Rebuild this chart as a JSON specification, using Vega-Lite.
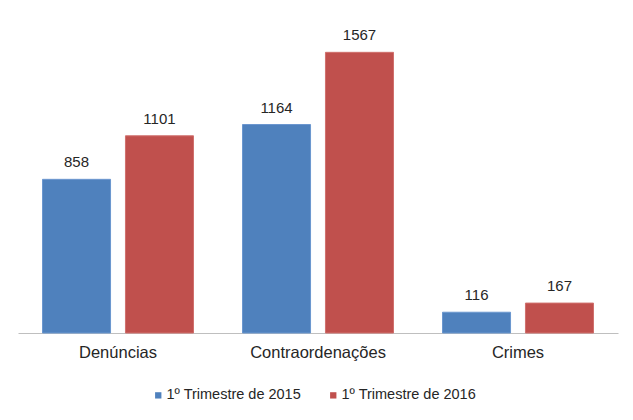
{
  "$schema": "https://vega.github.io/schema/vega-lite/v6.json",
  "autosize": "none",
  "width": 600,
  "height": 300,
  "padding": {"left": 18, "top": 33, "right": 15, "bottom": 87},
  "background": "white",
  "data": {
    "values": [
      {"categoria": "Denúncias", "periodo": "1º Trimestre de 2015", "valor": 858},
      {"categoria": "Denúncias", "periodo": "1º Trimestre de 2016", "valor": 1101},
      {"categoria": "Contraordenações", "periodo": "1º Trimestre de 2015", "valor": 1164},
      {"categoria": "Contraordenações", "periodo": "1º Trimestre de 2016", "valor": 1567},
      {"categoria": "Crimes", "periodo": "1º Trimestre de 2015", "valor": 116},
      {"categoria": "Crimes", "periodo": "1º Trimestre de 2016", "valor": 167}
    ]
  },
  "encoding": {
    "x": {
      "field": "categoria",
      "type": "nominal",
      "sort": ["Denúncias", "Contraordenações", "Crimes"],
      "title": null,
      "scale": {"paddingInner": 0.245, "paddingOuter": 0.1225},
      "axis": {
        "labelAngle": 0,
        "ticks": false,
        "domainColor": "#BFBFBF",
        "domainWidth": 1.2,
        "labelFont": "Liberation Sans",
        "labelFontSize": 16.5,
        "labelColor": "#262626",
        "labelPadding": 11
      }
    },
    "xOffset": {
      "field": "periodo",
      "type": "nominal",
      "scale": {"paddingInner": 0.18, "paddingOuter": 0}
    },
    "y": {
      "field": "valor",
      "type": "quantitative",
      "scale": {"domain": [0, 1675], "nice": false},
      "axis": null
    }
  },
  "layer": [
    {
      "mark": {"type": "bar", "strokeWidth": 1},
      "encoding": {
        "color": {
          "field": "periodo",
          "type": "nominal",
          "title": null,
          "scale": {"range": ["#4F81BD", "#C0504D"]},
          "legend": {
            "orient": "none",
            "legendX": 133,
            "legendY": 355,
            "direction": "horizontal",
            "symbolType": "square",
            "symbolSize": 40,
            "symbolStrokeWidth": 0,
            "columnPadding": 24,
            "labelFont": "Liberation Sans",
            "labelFontSize": 14.5,
            "labelColor": "#262626",
            "labelOffset": 1
          }
        },
        "stroke": {
          "field": "periodo",
          "type": "nominal",
          "scale": {"range": ["#6B97CF", "#D0706D"]},
          "legend": null
        }
      }
    },
    {
      "mark": {
        "type": "text",
        "baseline": "alphabetic",
        "dy": -12,
        "font": "Liberation Sans",
        "fontSize": 15,
        "color": "#262626"
      },
      "encoding": {
        "text": {"field": "valor", "type": "quantitative"}
      }
    }
  ],
  "config": {
    "view": {"stroke": null}
  }
}
